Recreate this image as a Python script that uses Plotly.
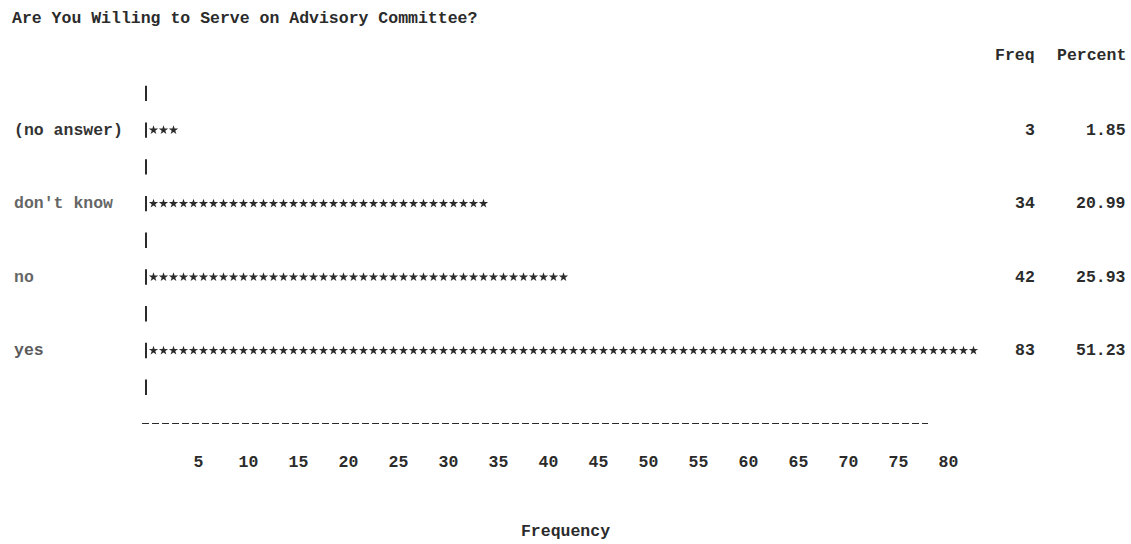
import plotly.graph_objects as go

# ---- data ----
title_text = "Are You Willing to Serve on Advisory Committee?"
categories = ["(no answer)", "don't know", "no", "yes"]
freq = [3, 34, 42, 83]
percent = [1.85, 20.99, 25.93, 51.23]
tick_values = [5, 10, 15, 20, 25, 30, 35, 40, 45, 50, 55, 60, 65, 70, 75, 80]
x_title = "Frequency"
col_headers = ["Freq", "Percent"]

# ---- style ----
FONT = "Liberation Mono, Courier New, monospace"
FS = 16.5
INK = "#2b2b2b"
label_colors = ["#333333", "#666666", "#666666", "#5a5a5a"]
W, H = 1131, 544
T, B = 75, 120
X0 = 148.5                   # pixel of value 0
PX = 10.0                    # pixels per unit
plot_h = H - T - B

# line grid: category rows on odd lines, pipes on every line 0..8
row_lines = [1 + 2 * i for i in range(len(categories))]
pipe_lines = list(range(0, 2 * len(categories) + 1))

fig = go.Figure()

# pipes of the vertical axis
fig.add_trace(go.Scatter(
    x=[-0.25] * len(pipe_lines), y=pipe_lines, mode="markers",
    marker=dict(symbol="line-ns-open", size=11, color=INK, line=dict(width=2, color=INK)),
    hoverinfo="skip", showlegend=False, cliponaxis=False))

# stars: one per unit of frequency
xs, ys = [], []
for f, yl in zip(freq, row_lines):
    for k in range(1, f + 1):
        xs.append(k - 0.5)
        ys.append(yl)
fig.add_trace(go.Scatter(
    x=xs, y=ys, mode="markers",
    marker=dict(symbol="star", size=7, color=INK, line=dict(width=0)),
    hoverinfo="skip", showlegend=False, cliponaxis=False))

bold = lambda col=INK: dict(family=FONT, size=FS, color=col, weight="bold")
annotations = []
# category labels (left aligned)
for c, yl, col in zip(categories, row_lines, label_colors):
    annotations.append(dict(x=-13.65, y=yl, xref="x", yref="y", text=c,
                            xanchor="left", yanchor="middle", showarrow=False,
                            font=bold(col)))
# freq and percent columns
col_x = [88.8, 97.9]
for f, p, yl in zip(freq, percent, row_lines):
    annotations.append(dict(x=col_x[0], y=yl, xref="x", yref="y", text=str(f),
                            xanchor="right", yanchor="middle", showarrow=False,
                            font=bold()))
    annotations.append(dict(x=col_x[1], y=yl, xref="x", yref="y", text=f"{p:.2f}",
                            xanchor="right", yanchor="middle", showarrow=False,
                            font=bold()))
# headers (above the plot area)
for h, xx in zip(col_headers, col_x):
    annotations.append(dict(x=xx, y=1 + (T - 56) / plot_h, xref="x", yref="paper", text=h,
                            xanchor="right", yanchor="middle", showarrow=False,
                            font=bold()))
# title
annotations.append(dict(x=0, y=1 + (T - 19) / plot_h, xref="paper", yref="paper",
                        text=title_text, xanchor="left", yanchor="middle",
                        xshift=10, showarrow=False, font=bold()))

fig.update_layout(
    width=W, height=H,
    margin=dict(l=0, r=0, t=T, b=B),
    paper_bgcolor="white", plot_bgcolor="white",
    annotations=annotations,
    shapes=[dict(type="line", xref="x", yref="y", x0=-0.65, x1=77.95, y0=9, y1=9,
                 line=dict(color=INK, width=2, dash="7px,3px"))],
)
fig.update_xaxes(range=[-X0 / PX, (W - X0) / PX], tickmode="array", tickvals=tick_values,
                 ticktext=[str(t) for t in tick_values],
                 showgrid=False, zeroline=False, showline=False,
                 ticks="outside", ticklen=22, tickcolor="rgba(0,0,0,0)",
                 tickfont=bold(),
                 title=dict(text=x_title, standoff=53, font=bold()))
fig.update_yaxes(range=[9, -0.5], showgrid=False, zeroline=False, showline=False,
                 showticklabels=False, ticks="")

fig.write_html("out.html", config={"displayModeBar": False},
               post_script="document.body.style.margin='0';document.body.style.overflow='hidden';")
